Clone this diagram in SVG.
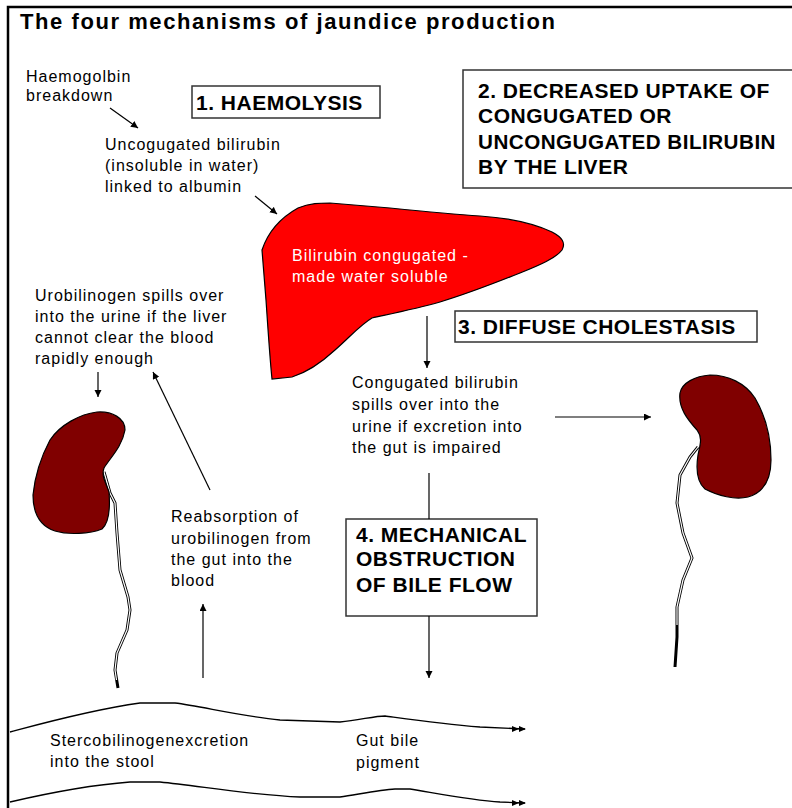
<svg xmlns="http://www.w3.org/2000/svg" width="792" height="808" viewBox="0 0 792 808">
  <defs>
    <style>
      .t { font-family: "Liberation Sans", Arial, sans-serif; font-size: 16px; letter-spacing: 1px; fill: #000; }
      .w { fill: #fff; }
      .h { font-family: "Liberation Sans", Arial, sans-serif; font-size: 21px; font-weight: bold; letter-spacing: 0.5px; fill: #000; }
      .box { fill: #fff; stroke: #333; stroke-width: 1.5; }
      .arr { fill: none; stroke: #000; stroke-width: 1.2; marker-end: url(#head); }
      .ln { fill: none; stroke: #000; stroke-width: 1.2; }
      .organ { stroke: #000; stroke-width: 1.2; }
      .ureter-o { fill: none; stroke: #000; stroke-width: 3; stroke-linejoin: round; }
      .ureter-i { fill: none; stroke: #fff; stroke-width: 1.2; stroke-linejoin: round; }
      .gut { fill: none; stroke: #000; stroke-width: 1.3; }
    </style>
    <marker id="head" markerUnits="userSpaceOnUse" markerWidth="10" markerHeight="10" refX="7" refY="3.5" orient="auto">
      <path d="M0,0 L7,3.5 L0,7 Z" fill="#000"/>
    </marker>
  </defs>

  <rect width="792" height="808" fill="#fff"/>

  <!-- frame -->
  <path d="M8,808 L8,7 L792,7" fill="none" stroke="#000" stroke-width="2.5"/>

  <!-- title -->
  <text x="20" y="29" font-family="Liberation Sans, Arial, sans-serif" font-size="22" font-weight="bold" textLength="535" lengthAdjust="spacing">The four mechanisms of jaundice production</text>

  <!-- liver -->
  <g id="liver">
    <path class="organ" fill="#ff0000" d="M262,250 C268,232 280,218 298,208 C310,203 320,203 330,203 L390,208 C420,211 450,214 480,216 C510,218 535,224 552,232 C562,237 566,243 562,250 C556,258 540,265 520,273 C500,281 470,293 440,302 C415,309 390,314 372,318 C360,325 350,337 335,350 C322,362 308,372 292,377 L272,379 C270,360 268,330 266,300 Z"/>
    <text class="t w" x="292" y="261">Bilirubin congugated -</text>
    <text class="t w" x="292" y="282">made water soluble</text>
  </g>

  <!-- left kidney -->
  <g id="kidney-left">
    <path class="ureter-o" d="M104,472 L110,493 L115,503 L117,533 L120,570 L128,597 L130,610 L127,630 L117,653 L115,670 L118,688"/>
    <path class="ureter-i" d="M104,472 L110,493 L115,503 L117,533 L120,570 L128,597 L130,610 L127,630 L117,653 L115,670 L116.5,680"/>
    <path class="organ" fill="#800000" d="M97,412 C80,414 60,425 50,440 C42,455 35,475 33,495 C33,513 40,526 55,531 C68,535 90,534 102,529 C110,522 110,505 109,492 C106,483 101,476 104,468 C110,458 122,447 125,430 C125,418 112,411 97,412 Z"/>
  </g>

  <!-- right kidney -->
  <g id="kidney-right">
    <path class="ureter-o" d="M698,447 L690,457 L680,475 L677,503 L683,533 L692,558 L683,580 L677,607 L677,637 L675,667"/>
    <path class="ureter-i" d="M698,447 L690,457 L680,475 L677,503 L683,533 L692,558 L683,580 L677,607 L677,625"/>
    <path d="M677,625 L677,637 L675,667" fill="none" stroke="#000" stroke-width="1.5"/>
    <path class="organ" fill="#800000" d="M680,393 C682,383 695,376 710,375 C728,375 745,383 755,398 C765,415 771,438 771,460 C771,478 765,492 748,497 C735,500 718,496 705,489 C697,482 696,468 698,455 C700,445 703,438 697,430 C688,420 678,408 680,393 Z"/>
  </g>

  <!-- gut -->
  <g id="gut">
    <path class="gut" d="M10,732 C40,724 90,710 140,703 L175,703 C200,706 240,716 280,720 L340,722 C360,720 375,716 385,716 C400,718 440,724 480,727 L525,729"/>
    <path d="M512,726 L519,729 L512,732 Z M519,726 L526,729 L519,732 Z" fill="#000"/>
    <path class="gut" d="M10,802 C40,795 90,785 130,782 L160,782 C200,786 250,795 300,797 L340,797 C360,794 380,790 395,789 L410,789 C430,792 470,800 500,802 L525,803"/>
    <path d="M512,800 L519,803 L512,806 Z M519,800 L526,803 L519,806 Z" fill="#000"/>
    <text class="t" x="50" y="746">Stercobilinogenexcretion</text>
    <text class="t" x="50" y="767">into the stool</text>
    <text class="t" x="356" y="746">Gut bile</text>
    <text class="t" x="356" y="768">pigment</text>
  </g>

  <!-- labels -->
  <g id="haemoglobin">
    <text class="t" x="26" y="82">Haemogolbin</text>
    <text class="t" x="26" y="101">breakdown</text>
  </g>

  <g id="unconjugated">
    <text class="t" x="105" y="150">Uncogugated bilirubin</text>
    <text class="t" x="105" y="171">(insoluble in water)</text>
    <text class="t" x="105" y="192">linked to albumin</text>
  </g>

  <g id="mech-1">
    <rect class="box" x="192" y="86" width="188" height="32"/>
    <text class="h" x="196" y="110">1. HAEMOLYSIS</text>
  </g>

  <g id="mech-2">
    <rect class="box" x="463" y="70" width="340" height="118"/>
    <text class="h" x="478" y="98">2. DECREASED UPTAKE OF</text>
    <text class="h" x="478" y="123">CONGUGATED OR</text>
    <text class="h" x="478" y="149" textLength="298" lengthAdjust="spacingAndGlyphs">UNCONGUGATED BILIRUBIN</text>
    <text class="h" x="478" y="174">BY THE LIVER</text>
  </g>

  <g id="mech-3">
    <rect class="box" x="455" y="311" width="302" height="31"/>
    <text class="h" x="458" y="334">3. DIFFUSE CHOLESTASIS</text>
  </g>

  <g id="mech-4">
    <rect class="box" x="346" y="519" width="191" height="97"/>
    <text class="h" x="356" y="542">4. MECHANICAL</text>
    <text class="h" x="356" y="566">OBSTRUCTION</text>
    <text class="h" x="356" y="592">OF BILE FLOW</text>
  </g>

  <g id="urobilinogen-urine">
    <text class="t" x="35" y="301">Urobilinogen spills over</text>
    <text class="t" x="35" y="322">into the urine if the liver</text>
    <text class="t" x="35" y="343">cannot clear the blood</text>
    <text class="t" x="35" y="364">rapidly enough</text>
  </g>

  <g id="reabsorption">
    <text class="t" x="171" y="522">Reabsorption of</text>
    <text class="t" x="171" y="544">urobilinogen from</text>
    <text class="t" x="171" y="565">the gut into the</text>
    <text class="t" x="171" y="586">blood</text>
  </g>

  <g id="conjugated-urine">
    <text class="t" x="352" y="388">Congugated bilirubin</text>
    <text class="t" x="352" y="410">spills over into the</text>
    <text class="t" x="352" y="432">urine if excretion into</text>
    <text class="t" x="352" y="453">the gut is impaired</text>
  </g>

  <!-- connectors -->
  <g id="connectors">
    <line class="arr" x1="110" y1="108" x2="138" y2="128"/>
    <line class="arr" x1="255" y1="196" x2="277" y2="214"/>
    <line class="arr" x1="427" y1="316" x2="427" y2="368"/>
    <line class="arr" x1="98" y1="372" x2="98" y2="397"/>
    <line class="arr" x1="210" y1="490" x2="153" y2="372"/>
    <line class="arr" x1="203" y1="678" x2="203" y2="604"/>
    <line class="arr" x1="555" y1="417" x2="651" y2="417"/>
    <line class="ln" x1="429" y1="473" x2="429" y2="519"/>
    <line class="arr" x1="429" y1="616" x2="429" y2="678"/>
  </g>
</svg>
